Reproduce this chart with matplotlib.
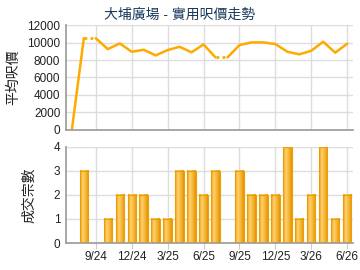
import numpy as np
import matplotlib.pyplot as plt
from matplotlib.colors import LinearSegmentedColormap

plt.rcParams['font.family'] = ['Liberation Sans', 'Noto Sans CJK TC']

# months from 7/24 to 6/26
months = ['7/24', '8/24', '9/24', '10/24', '11/24', '12/24', '1/25', '2/25', '3/25',
          '4/25', '5/25', '6/25', '7/25', '8/25', '9/25', '10/25', '11/25', '12/25',
          '1/26', '2/26', '3/26', '4/26', '5/26', '6/26']
price = [0, 10500, 10500, 9250, 9900, 8950, 9180, 8530, 9140, 9520, 8880, 9790,
         8300, 8300, 9710, 10020, 10020, 9830, 8950, 8650, 9060, 10100, 8840, 9870]
deals = [0, 3, 0, 1, 2, 2, 2, 1, 1, 3, 3, 2, 3, 0, 3, 2, 2, 2, 4, 1, 2, 4, 1, 2]
tick_labels = ['9/24', '12/24', '3/25', '6/25', '9/25', '12/25', '3/26', '6/26']

x = np.arange(len(months))
ticks = [months.index(t) for t in tick_labels]
price = np.array(price, dtype=float)
deals = np.array(deals)

fig = plt.figure(figsize=(3.6, 2.7), dpi=100)
ax1 = fig.add_axes([0.183, 0.519, 0.798, 0.388])
ax2 = fig.add_axes([0.183, 0.100, 0.798, 0.356])

grid_c = '#dddddd'
spine_c = '#999999'
txt_c = '#222222'
line_c = '#ffaa00'

for ax in (ax1, ax2):
    ax.set_xlim(-0.5, 23.5)
    ax.set_xticks(ticks)
    ax.grid(True, color=grid_c, lw=1)
    ax.set_axisbelow(True)
    for s in ('top', 'right'):
        ax.spines[s].set_visible(False)
    for s in ('left', 'bottom'):
        ax.spines[s].set_color(spine_c)
        ax.spines[s].set_linewidth(1.2)
    ax.tick_params(axis='y', length=0, labelsize=8.5, colors=txt_c, pad=4)
    ax.tick_params(axis='x', length=4, color='#cccccc', labelsize=8.5, colors=txt_c, pad=2)

# 平均呎價 line: solid where there were deals, dotted where the price is carried forward
zero = [i for i, d in enumerate(deals) if d == 0 and i > 0]
start = 0
for z in zero:
    ax1.plot(x[start:z], price[start:z], color=line_c, lw=1.8, solid_capstyle='round')
    ax1.plot(x[z - 1:z + 1], price[z - 1:z + 1], color=line_c, lw=2, ls=(0, (1, 1.2)))
    start = z
ax1.plot(x[start:], price[start:], color=line_c, lw=1.8, solid_capstyle='round')
ax1.set_ylim(0, 12000)
ax1.set_yticks(range(0, 12001, 2000))
ax1.set_xticklabels([])
ax1.tick_params(axis='x', length=0)
ax1.set_ylabel('平均呎價', fontsize=10, color=txt_c, labelpad=5)

# 成交宗數 bars with horizontal gradient
cmap = LinearSegmentedColormap.from_list('bar', ['#f0a010', '#ffd070', '#f5b535', '#e89400'])
grad = np.linspace(0, 1, 64).reshape(1, -1)
w = 0.7
for xi, d in zip(x, deals):
    if d > 0:
        ax2.imshow(grad, cmap=cmap, aspect='auto', extent=(xi - w / 2, xi + w / 2, 0, d),
                   zorder=2)
        ax2.bar(xi, d, width=w, facecolor='none', edgecolor='#eaa000', lw=0.8, zorder=3)
ax2.set_xlim(-0.5, 23.5)
ax2.set_ylim(0, 4)
ax2.set_yticks(range(5))
ax2.set_xticklabels(tick_labels)
ax2.set_ylabel('成交宗數', fontsize=10, color=txt_c, labelpad=13)

fig.text(0.5, 0.945, '大埔廣場 - 實用呎價走勢', ha='center', va='center',
         fontsize=10, color='#1a3a5c')

fig.savefig('out.png', dpi=100)
